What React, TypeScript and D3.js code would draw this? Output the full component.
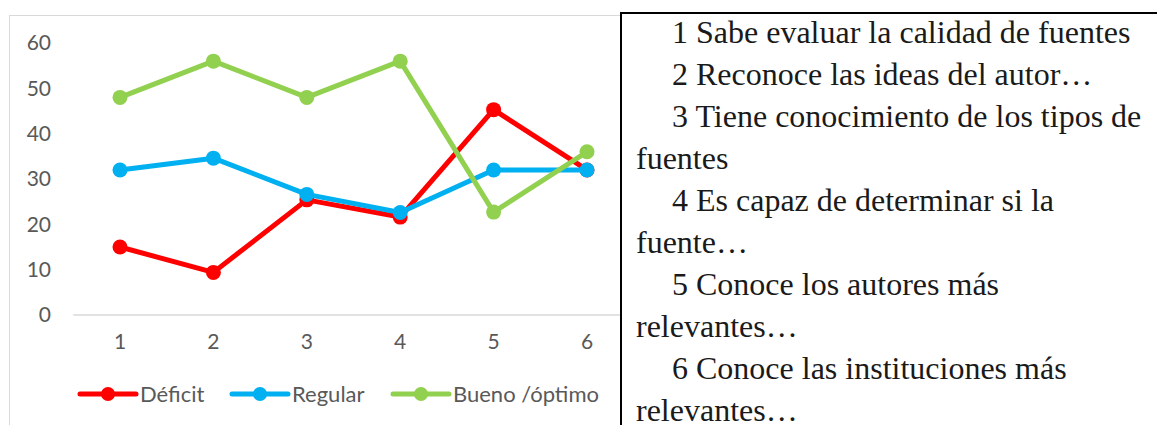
import React from "react";
import * as d3 from "d3";

const categories = ["1", "2", "3", "4", "5", "6"];
const deficit = [15, 9.4, 25.4, 21.6, 45.3, 32];
const regular = [32, 34.6, 26.6, 22.6, 32, 32];
const bueno = [48, 56, 48, 56, 22.7, 36];
const yTicks = [0, 10, 20, 30, 40, 50, 60];
const seriesNames = ["Déficit", "Regular", "Bueno /óptimo"];
const seriesColors = ["#FF0000", "#00B0F0", "#92D050"];
const boxLines = [
  { text: "1 Sabe evaluar la calidad de fuentes", indent: true },
  { text: "2 Reconoce las ideas del autor…", indent: true },
  { text: "3 Tiene conocimiento de los tipos de", indent: true },
  { text: "fuentes", indent: false },
  { text: "4 Es capaz de determinar si la", indent: true },
  { text: "fuente…", indent: false },
  { text: "5 Conoce los autores más", indent: true },
  { text: "relevantes…", indent: false },
  { text: "6 Conoce las instituciones más", indent: true },
  { text: "relevantes…", indent: false },
];

const W = 1157;
const H = 425;

export default function App() {
  const x = d3.scaleBand<string>().domain(categories).range([73.3, 633.7]);
  const y = d3.scaleLinear().domain([0, 60]).range([315, 43]);
  const cx = (c: string) => (x(c) as number) + x.bandwidth() / 2;
  const allSeries = [deficit, regular, bueno];
  const line = d3
    .line<number>()
    .x((_, i) => cx(categories[i]))
    .y((d) => y(d));
  const font = "Lato, 'Open Sans', sans-serif";
  const legendX = [80, 232, 393];

  return (
    <svg
      width={W}
      height={H}
      style={{ position: "absolute", left: 0, top: 0, background: "#fff" }}
    >
      <rect x={9.5} y={15.5} width={640} height={430} fill="#fff" stroke="#d9d9d9" strokeWidth={1} />
      {yTicks.map((t) => (
        <text
          key={t}
          x={51}
          y={y(t)}
          dy="0.35em"
          textAnchor="end"
          fontFamily={font}
          fontSize={21}
          fill="#595959"
        >
          {t}
        </text>
      ))}
      <line x1={x.range()[0]} x2={x.range()[1]} y1={y(0)} y2={y(0)} stroke="#d9d9d9" strokeWidth={1.5} />
      {categories.map((c) => (
        <text
          key={c}
          x={cx(c)}
          y={342}
          dy="0.35em"
          textAnchor="middle"
          fontFamily={font}
          fontSize={21}
          fill="#595959"
        >
          {c}
        </text>
      ))}
      {allSeries.map((s, si) => (
        <g key={si}>
          <path d={line(s) as string} fill="none" stroke={seriesColors[si]} strokeWidth={5} strokeLinejoin="round" />
          {s.map((v, i) => (
            <circle key={i} cx={cx(categories[i])} cy={y(v)} r={7.5} fill={seriesColors[si]} />
          ))}
        </g>
      ))}
      {seriesNames.map((n, i) => (
        <g key={n} transform={`translate(${legendX[i]},394)`}>
          <line x1={0} x2={56} y1={0} y2={0} stroke={seriesColors[i]} strokeWidth={5} strokeLinecap="round" />
          <circle cx={28} cy={0} r={7} fill={seriesColors[i]} />
          <text x={60} y={0} dy="0.35em" fontFamily={font} fontSize={22} fill="#595959">
            {n}
          </text>
        </g>
      ))}
      <rect x={621} y={13} width={560} height={440} fill="#fff" stroke="#000" strokeWidth={2} />
      {boxLines.map((l, i) => (
        <text
          key={i}
          x={l.indent ? 672 : 636}
          y={43 + i * 42}
          fontFamily="'Liberation Serif', 'Times New Roman', serif"
          fontSize={32}
          fill="#1a1a1a"
        >
          {l.text}
        </text>
      ))}
    </svg>
  );
}
